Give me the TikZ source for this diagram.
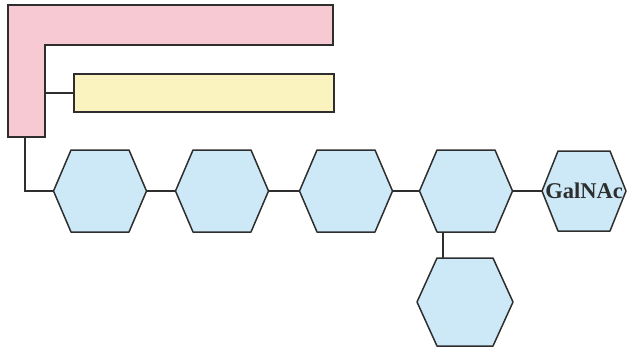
\documentclass[tikz,border=0pt]{standalone}
\usepackage{fontspec}
\usepackage{tikz}
\usepackage{xcolor}
\usetikzlibrary{calc,positioning}
\newfontfamily\labelfont{Liberation Serif}
\definecolor{protpink}{HTML}{F6C9D3}
\definecolor{lipidyellow}{HTML}{FAF3C0}
\definecolor{sugarblue}{HTML}{CDE9F7}
\definecolor{inkgray}{HTML}{2E2E2E}
% #1 label, #2 name, #3 centre, #4 half width, #5 half top edge, #6 half height
\newcommand{\sugar}[6][]{%
  \path[sugarbox] (#3) +(-#4,0) coordinate (#2-w) -- +(-#5,-#6) coordinate (#2-nw)
    -- +(#5,-#6) coordinate (#2-ne) -- +(#4,0) coordinate (#2-e)
    -- +(#5,#6) coordinate (#2-se) -- +(-#5,#6) coordinate (#2-sw) -- cycle;
  \node[sugarlabel] (#2) at (#3) {#1};}

\begin{document}
\begin{tikzpicture}[
  x=1pt, y=-1pt,
  sugarbox/.style={draw=inkgray, fill=sugarblue, line width=1.5pt, line join=round},
  sugarlabel/.style={inner sep=0pt, font=\labelfont\fontsize{22.5}{24}\selectfont\bfseries, text=inkgray},
  protbox/.style={draw=inkgray, fill=protpink, line width=1.6pt},
  lipidbox/.style={draw=inkgray, fill=lipidyellow, line width=1.6pt,
    minimum width=260pt, minimum height=38pt, inner sep=0pt},
  link/.style={draw=inkgray, line width=1.4pt}
]
\useasboundingbox (0,0) rectangle (634,348);

% protein (L shape) and lipid bar
\path[protbox] (8,5) -- (333,5) -- (333,45) -- (45,45) coordinate (protin)
  -- (45,137) -- (8,137) -- cycle;
\coordinate (stem) at (25,137);
\node[lipidbox, anchor=north west] (lipid) at (73,73) {};
\draw[link] (lipid.west) -- (lipid.west -| protin);

% sugar chain
\sugar{h1}{100,191}{46.5}{29}{41}
\sugar{h2}{222,191}{46.5}{29}{41}
\sugar{h3}{346,191}{46.5}{29}{41}
\sugar{h4}{466,191}{46.5}{29}{41}
\sugar[GalNAc]{h5}{584,191}{42}{26}{40}
\sugar{h6}{465,302}{48}{28}{44}

\draw[link] (stem) |- (h1-w);
\draw[link] (h1-e) -- (h2-w);
\draw[link] (h2-e) -- (h3-w);
\draw[link] (h3-e) -- (h4-w);
\draw[link] (h4-e) -- (h5-w);
\coordinate (branch) at ($(h4-sw)+(6,0)$);
\draw[link] (branch) -- (branch |- h6-nw);
\end{tikzpicture}
\end{document}
